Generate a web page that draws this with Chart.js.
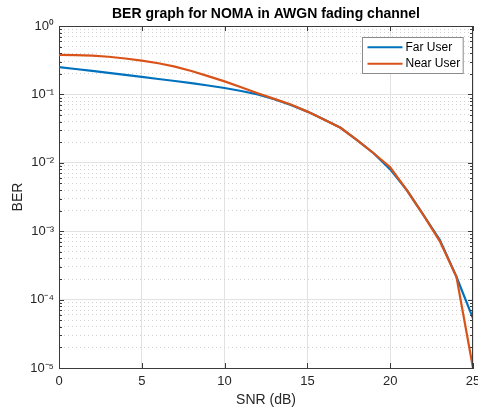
<!DOCTYPE html>
<html><head><meta charset="utf-8">
<script src="https://cdn.jsdelivr.net/npm/chart.js@4.4.1/dist/chart.umd.min.js"></script>
<style>html,body{margin:0;padding:0;background:#fff}#wrap{width:478px;height:414px}</style>
</head><body><div id="wrap"><canvas id="c" width="478" height="414"></canvas></div>
<script>
const snr = [0,1,2,3,4,5,6,7,8,9,10,11,12,13,14,15,16,17,18,19,20,21,22,23,24,25];
const farUser = [0.250,0.235,0.221,0.207,0.193,0.180,0.168,0.157,0.146,0.135,0.124,0.112,0.100,0.085,0.070,0.056,0.043,0.0325,0.0215,0.0138,0.0080,0.0040,0.00173,0.00074,0.000216,0.000053];
const nearUser = [0.378,0.374,0.368,0.355,0.335,0.312,0.285,0.255,0.220,0.185,0.155,0.127,0.104,0.086,0.071,0.056,0.043,0.0325,0.0215,0.0138,0.0086,0.0040,0.00173,0.00071,0.000216,0.00001];
const xTicks = [0,5,10,15,20,25];
const yDecades = [1e-5,1e-4,1e-3,1e-2,1e-1,1];
const yLabels = ['10\u207B\u2075','10\u207B\u2074','10\u207B\u00B3','10\u207B\u00B2','10\u207B\u00B9','10\u2070'];
const seriesNames = ['Far User','Near User'];
const seriesColors = ['#0072BD','#D95319'];

const FONT = '"Liberation Sans", Arial, sans-serif';
const yAll = [];
for (let k = -5; k <= 0; k++) {
  for (let m = 1; m <= 9; m++) {
    const v = m * Math.pow(10, k);
    if (v <= 1.0000001) yAll.push(Number(v.toPrecision(3)));
  }
}
const isDecade = v => Math.abs(Math.log10(v) - Math.round(Math.log10(v))) < 1e-6;

const framePlugin = {
  id: 'frame',
  afterDatasetsDraw(chart) {
    const {ctx, chartArea: a, scales} = chart;
    ctx.save();
    ctx.strokeStyle = '#3a3a3a';
    ctx.lineWidth = 1;
    ctx.beginPath();
    ctx.moveTo(a.left, a.top + 0.5); ctx.lineTo(a.right, a.top + 0.5);
    ctx.moveTo(a.right - 0.5, a.top); ctx.lineTo(a.right - 0.5, a.bottom);
    scales.y.ticks.forEach(t => {
      const py = Math.round(scales.y.getPixelForValue(t.value)) + 0.5;
      const len = isDecade(t.value) ? 5 : 3;
      ctx.moveTo(a.left, py); ctx.lineTo(a.left + len, py);
      ctx.moveTo(a.right, py); ctx.lineTo(a.right - len, py);
    });
    scales.x.ticks.forEach(t => {
      const px = Math.round(scales.x.getPixelForValue(t.value)) + 0.5;
      ctx.moveTo(px, a.bottom); ctx.lineTo(px, a.bottom - 5);
      ctx.moveTo(px, a.top); ctx.lineTo(px, a.top + 5);
    });
    ctx.stroke();
    ctx.restore();
  },
  afterDraw(chart) {
    const {ctx, chartArea: a} = chart;
    const ds = chart.data.datasets;
    ctx.save();
    ctx.font = '12px ' + FONT;
    const textW = Math.max(...ds.map(d => ctx.measureText(d.label).width));
    const lineLen = 35, padL = 5, gap = 3, padR = 3, rowH = 16.5;
    const w = padL + lineLen + gap + textW + padR;
    const h = ds.length * rowH + 3;
    const x0 = Math.round(a.right - 10 - w) + 0.5;
    const y0 = Math.round(a.top + 11) + 0.5;
    ctx.fillStyle = '#fff';
    ctx.fillRect(x0, y0, w, h);
    ctx.strokeStyle = '#8a8a8a';
    ctx.lineWidth = 1;
    ctx.strokeRect(x0, y0, w, h);
    ds.forEach((d, i) => {
      const cy = y0 + 1.5 + rowH * (i + 0.5);
      ctx.strokeStyle = d.borderColor;
      ctx.lineWidth = 2.2;
      ctx.beginPath();
      ctx.moveTo(x0 + padL, cy); ctx.lineTo(x0 + padL + lineLen, cy);
      ctx.stroke();
      ctx.fillStyle = '#000';
      ctx.textBaseline = 'middle';
      ctx.textAlign = 'left';
      ctx.fillText(d.label, x0 + padL + lineLen + gap, cy);
    });
    ctx.restore();
  }
};

new Chart(document.getElementById('c'), {
  type: 'line',
  data: {
    datasets: [
      {label: seriesNames[0], order: 1, data: snr.map((x, i) => ({x, y: farUser[i]})), borderColor: seriesColors[0], backgroundColor: seriesColors[0], borderWidth: 2.2, pointRadius: 0, tension: 0, fill: false},
      {label: seriesNames[1], order: 0, data: snr.map((x, i) => ({x, y: nearUser[i]})), borderColor: seriesColors[1], backgroundColor: seriesColors[1], borderWidth: 2.2, pointRadius: 0, tension: 0, fill: false}
    ]
  },
  options: {
    responsive: false,
    animation: false,
    devicePixelRatio: 1,
    layout: {padding: {left: 0, right: 5, top: 0, bottom: 0}},
    plugins: {
      legend: {display: false},
      tooltip: {enabled: false},
      title: {
        display: true,
        text: 'BER graph for NOMA in AWGN fading channel',
        fullSize: false,
        color: '#000',
        font: {family: FONT, size: 14, weight: 'bold'},
        padding: {top: 6, bottom: 3.2}
      }
    },
    scales: {
      x: {
        type: 'linear',
        min: 0, max: 25,
        afterBuildTicks: s => { s.ticks = xTicks.map(v => ({value: v})); },
        afterFit: s => { s.height = 46; s.paddingLeft = 0; s.paddingRight = 0; },
        ticks: {color: '#262626', font: {family: FONT, size: 13}, padding: 6, maxRotation: 0, autoSkip: false},
        grid: {color: '#e2e2e2', drawTicks: false, lineWidth: 1},
        border: {color: '#3a3a3a', width: 1},
        title: {display: true, text: 'SNR (dB)', color: '#262626', font: {family: FONT, size: 14}, padding: {top: 0, bottom: 5}}
      },
      y: {
        type: 'logarithmic',
        min: 1e-5, max: 1,
        afterBuildTicks: s => { s.ticks = yAll.map(v => ({value: v, major: isDecade(v)})); },
        afterFit: s => { s.width = 59; s.paddingTop = 0; s.paddingBottom = 0; },
        ticks: {
          color: '#262626', font: {family: FONT, size: 13}, padding: 5, autoSkip: false,
          callback: v => isDecade(v) ? yLabels[yDecades.findIndex(d => Math.abs(Math.log10(d) - Math.log10(v)) < 1e-6)] : ''
        },
        grid: {
          drawTicks: false, lineWidth: 1,
          color: c => (c.tick && !isDecade(c.tick.value)) ? '#d2d2d2' : '#e2e2e2'
        },
        border: {
          color: '#3a3a3a', width: 1,
          dash: c => (c.tick && !isDecade(c.tick.value)) ? [1, 3] : []
        },
        title: {display: true, text: 'BER', color: '#262626', font: {family: FONT, size: 14}, padding: {top: 10, bottom: 0}}
      }
    }
  },
  plugins: [framePlugin]
});
</script>
</body></html>
